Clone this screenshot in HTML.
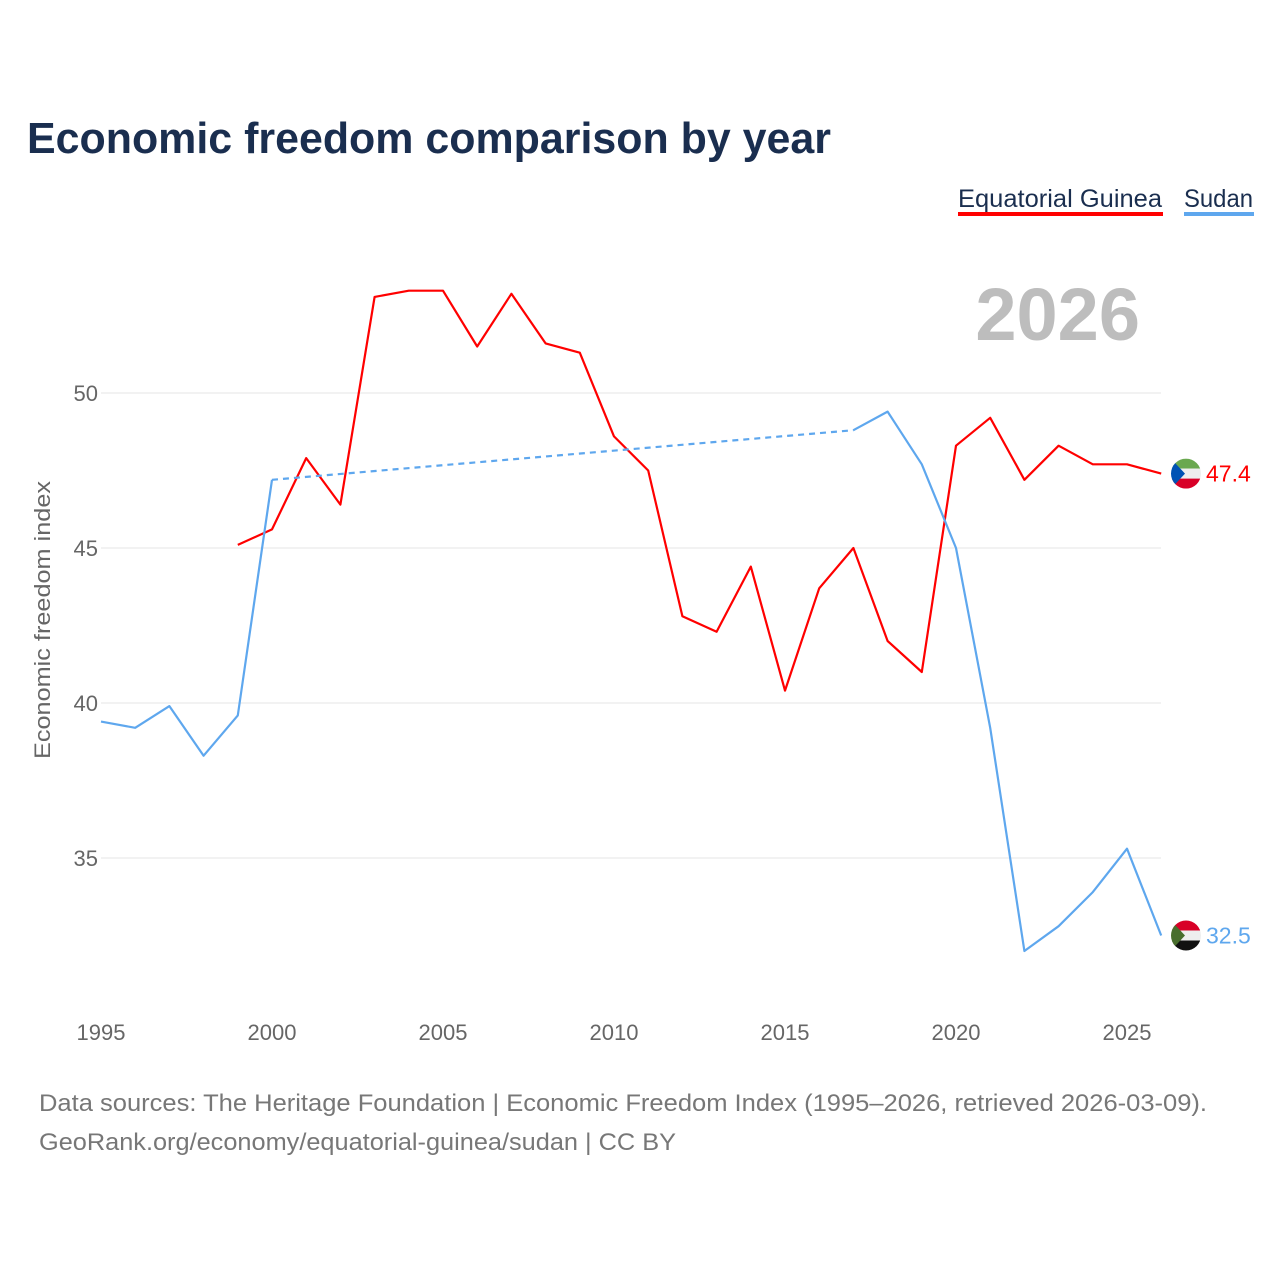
<!DOCTYPE html>
<html><head><meta charset="utf-8"><style>
body{margin:0;background:#fff;font-family:"Liberation Sans",sans-serif}
svg text{font-family:"Liberation Sans",sans-serif}
</style></head><body>
<svg id="chart" width="1280" height="1280" viewBox="0 0 1280 1280" xmlns="http://www.w3.org/2000/svg">
<text x="27" y="153" font-size="44" font-weight="bold" fill="#1a2e4f" textLength="804" lengthAdjust="spacingAndGlyphs">Economic freedom comparison by year</text>
<g>
<text x="958" y="207" font-size="25" fill="#1a2e4f" textLength="204" lengthAdjust="spacingAndGlyphs">Equatorial Guinea</text>
<rect x="958" y="212" width="205" height="4" fill="#ff0000"/></g>
<g>
<text x="1184" y="207" font-size="25" fill="#1a2e4f" textLength="69" lengthAdjust="spacingAndGlyphs">Sudan</text>
<rect x="1184" y="212" width="70" height="4" fill="#5ea7ee"/></g>
<text x="1140" y="340" font-size="74" font-weight="bold" fill="#bdbdbd" text-anchor="end">2026</text>
<text transform="translate(50,620) rotate(-90)" font-size="22" fill="#666" text-anchor="middle" textLength="278" lengthAdjust="spacingAndGlyphs">Economic freedom index</text>
<g id="grid"></g><g id="series"></g>
<text x="39" y="1111" font-size="24" fill="#777" textLength="1168" lengthAdjust="spacingAndGlyphs">Data sources: The Heritage Foundation | Economic Freedom Index (1995–2026, retrieved 2026-03-09).</text>
<text x="39" y="1150" font-size="24" fill="#777" textLength="637" lengthAdjust="spacingAndGlyphs">GeoRank.org/economy/equatorial-guinea/sudan | CC BY</text>
</svg>
<script>
const years=[1995,1996,1997,1998,1999,2000,2001,2002,2003,2004,2005,2006,2007,2008,2009,2010,2011,2012,2013,2014,2015,2016,2017,2018,2019,2020,2021,2022,2023,2024,2025,2026];
const guinea=[null,null,null,null,45.1,45.6,47.9,46.4,53.1,53.3,53.3,51.5,53.2,51.6,51.3,48.6,47.5,42.8,42.3,44.4,40.4,43.7,45.0,42.0,41.0,48.3,49.2,47.2,48.3,47.7,47.7,47.4];
const sudan=[39.4,39.2,39.9,38.3,39.6,47.2,null,null,null,null,null,null,null,null,null,null,null,null,null,null,null,null,48.8,49.4,47.7,45.0,39.2,32.0,32.8,33.9,35.3,32.5];
const yTicks=[35,40,45,50];
const xTicks=[1995,2000,2005,2010,2015,2020,2025];
const NS="http://www.w3.org/2000/svg";
const X=y=>101+(y-1995)*(1026/30);
const Y=v=>393+(50-v)*31;
function mk(t,a,p){const e=document.createElementNS(NS,t);for(const k in a)e.setAttribute(k,a[k]);p.appendChild(e);return e;}
const grid=document.getElementById('grid'),ser=document.getElementById('series');
yTicks.forEach(v=>{
 const l=mk('line',{x1:101,x2:1161,y1:Y(v),y2:Y(v),stroke:'#e6e6e6','stroke-width':1},grid);
 
 
 const t=mk('text',{x:98,y:Y(v)+8,'font-size':22,fill:'#666','text-anchor':'end'},grid);t.textContent=v;
 
 
});
xTicks.forEach(v=>{
 const t=mk('text',{x:X(v),y:1040,'font-size':22,fill:'#666','text-anchor':'middle'},grid);t.textContent=v;
 
 
});
function draw(vals,color,name){
 let segs=[],cur=[],last=null,dash=[];
 vals.forEach((v,i)=>{
  if(v==null){if(cur.length){segs.push(cur);cur=[];}return;}
  if(last!=null&&last.i<i-1)dash.push([last,{i,v}]);
  cur.push([X(years[i]),Y(v)]);last={i,v};
 });
 if(cur.length)segs.push(cur);
 segs.forEach(s=>{
  const p=mk('path',{d:'M'+s.map(q=>q.join(',')).join('L'),fill:'none',stroke:color,'stroke-width':2.2,'stroke-linejoin':'round'},ser);
  
  
 });
 dash.forEach(([a,b])=>{
  const p=mk('line',{x1:X(years[a.i]),y1:Y(a.v),x2:X(years[b.i]),y2:Y(b.v),stroke:color,'stroke-width':2.2,'stroke-dasharray':'6,5'},ser);
  
  
 });
 const lv=vals[vals.length-1],ly=Y(lv);
 const t=mk('text',{x:1206,y:ly+8,'font-size':23,fill:color},ser);t.textContent=lv.toFixed(1);
 
 
 return ly;
}
function flag(cy,stripes,tri,name){
 const g=mk('g',{},ser);
 
 
 const id='c'+name;
 const cp=mk('clipPath',{id},g);mk('circle',{cx:1186,cy,r:15},cp);
 const gg=mk('g',{'clip-path':'url(#'+id+')'},g);
 stripes.forEach((c,i)=>mk('rect',{x:1171,y:cy-15+i*10,width:30,height:10,fill:c},gg));
 mk('polygon',{points:`1171,${cy-15} 1171,${cy+15} ${1171+tri[1]},${cy}`,fill:tri[0]},gg);
}
const gy=draw(guinea,'#ff0000','equatorial-guinea');
const sy=draw(sudan,'#5ea7ee','sudan');
flag(gy,['#6aa84f','#eeeeee','#d80027'],['#0052b4',14],'equatorial-guinea');
flag(sy,['#d80027','#eeeeee','#111111'],['#496e2d',14],'sudan');
</script>
</body></html>
